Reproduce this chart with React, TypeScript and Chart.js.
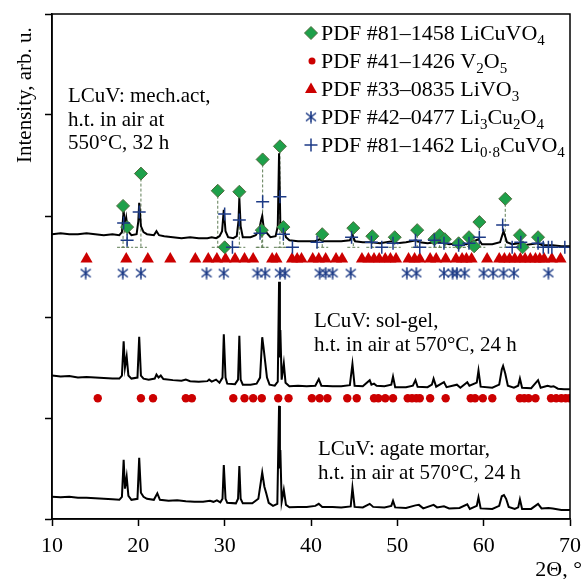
import { useEffect, useRef } from 'react';
import { Chart, registerables } from 'chart.js';
Chart.register(...registerables);

const FONT = '"Liberation Serif", "Times New Roman", serif';

const xTicks = [10, 20, 30, 40, 50, 60, 70];

// LCuV: mech.act (top pattern)
const mechX = [10, 11, 12, 13, 14, 15, 16, 17, 17.8, 18.1, 18.3, 18.45, 18.6, 18.8, 19.2, 19.8, 20.0, 20.1, 20.3, 20.6, 21.0, 21.8, 22.1, 22.4, 23, 24, 25, 26, 27, 28, 28.5, 29.0, 29.4, 29.7, 29.9, 30.1, 30.4, 31.0, 31.4, 31.6, 31.7, 31.85, 32.1, 33.0, 33.6, 34.0, 34.2, 34.35, 34.5, 34.8, 35.3, 35.9, 36.15, 36.3, 36.45, 36.65, 36.85, 37.1, 37.5, 38.5, 39.5, 40.5, 41.0, 41.4, 42.5, 43.5, 44.5, 44.8, 45.1, 46, 47, 48, 49.4, 50, 51, 52.2, 52.6, 53.5, 54.5, 55.2, 56, 57, 58, 59.4, 59.8, 61, 61.9, 62.3, 62.7, 63.3, 64.1, 64.6, 66.3, 66.8, 68, 69, 70];
const mechY = [2.82, 2.83, 2.82, 2.82, 2.83, 2.82, 2.81, 2.82, 2.81, 2.84, 3.05, 2.9, 2.98, 2.85, 2.81, 2.82, 2.95, 3.13, 2.9, 2.84, 2.82, 2.81, 2.85, 2.81, 2.8, 2.79, 2.78, 2.79, 2.78, 2.78, 2.79, 2.78, 2.8, 2.85, 3.06, 2.85, 2.79, 2.78, 2.8, 2.95, 3.18, 2.9, 2.79, 2.79, 2.81, 2.86, 2.95, 3.0, 2.9, 2.84, 2.79, 2.8, 2.9, 3.62, 2.92, 2.85, 2.87, 2.79, 2.76, 2.75, 2.75, 2.75, 2.77, 2.75, 2.75, 2.75, 2.76, 2.81, 2.75, 2.74, 2.74, 2.73, 2.75, 2.73, 2.74, 2.76, 2.74, 2.73, 2.74, 2.74, 2.72, 2.73, 2.72, 2.77, 2.72, 2.72, 2.74, 2.85, 2.74, 2.72, 2.73, 2.71, 2.73, 2.71, 2.71, 2.7, 2.7];

// LCuV: sol-gel (middle pattern)
const solX = [10, 11, 12, 13, 14, 15, 16, 17, 17.8, 18.1, 18.3, 18.45, 18.65, 18.85, 19.2, 19.9, 20.1, 20.3, 20.6, 21.2, 21.9, 22.1, 22.35, 22.6, 22.9, 24, 25, 25.5, 26, 27, 28.0, 28.2, 28.5, 29.0, 29.4, 29.75, 29.9, 30.1, 30.3, 31.2, 31.55, 31.7, 31.85, 32.1, 33.0, 33.7, 34.1, 34.35, 34.5, 34.7, 34.9, 35.2, 35.8, 36.15, 36.3, 36.4, 36.45, 36.6, 36.85, 37.05, 37.5, 38.5, 39.5, 40.5, 40.9, 41.2, 42.5, 43.5, 44.5, 44.8, 45.05, 46, 46.8, 47.0, 47.3, 47.6, 48.5, 49.3, 49.5, 49.75, 51, 51.8, 52.1, 52.35, 53.5, 54.0, 54.2, 54.5, 55.4, 55.7, 56.9, 57.3, 58.1, 58.35, 59.2, 59.4, 59.65, 61, 61.8, 62.1, 62.25, 62.5, 62.8, 63.5, 64.0, 64.2, 64.45, 65.5, 66.3, 66.6, 67.4, 67.8, 68.1, 68.6, 69.3, 70];
const solY = [1.42, 1.41, 1.415, 1.4, 1.405, 1.4, 1.395, 1.39, 1.39, 1.42, 1.76, 1.5, 1.61, 1.42, 1.39, 1.4, 1.805, 1.42, 1.39, 1.38, 1.39, 1.43, 1.4, 1.42, 1.385, 1.375, 1.37, 1.38, 1.365, 1.36, 1.365, 1.38, 1.36, 1.38, 1.35, 1.4, 1.83, 1.4, 1.34, 1.335, 1.38, 1.815, 1.38, 1.33, 1.33, 1.34, 1.4, 1.8, 1.7, 1.55, 1.4, 1.33, 1.32, 1.36, 2.35, 1.6, 1.87, 1.38, 1.54, 1.35, 1.315, 1.32, 1.315, 1.32, 1.385, 1.32, 1.315, 1.315, 1.325, 1.535, 1.32, 1.315, 1.375, 1.33, 1.34, 1.32, 1.315, 1.33, 1.41, 1.305, 1.305, 1.32, 1.375, 1.31, 1.305, 1.33, 1.39, 1.31, 1.355, 1.305, 1.33, 1.3, 1.355, 1.32, 1.35, 1.47, 1.31, 1.3, 1.33, 1.48, 1.515, 1.44, 1.32, 1.3, 1.32, 1.39, 1.3, 1.295, 1.375, 1.3, 1.32, 1.31, 1.315, 1.29, 1.285, 1.285];

// LCuV: agate mortar (bottom pattern)
const agateX = [10, 11, 12, 13, 14, 15, 16, 17, 17.8, 18.1, 18.3, 18.45, 18.65, 18.85, 19.2, 19.9, 20.1, 20.3, 20.6, 21.0, 21.8, 22.2, 22.5, 23.5, 24.5, 25.5, 26.5, 27.5, 28.3, 28.7, 29.1, 29.5, 29.75, 29.9, 30.1, 30.3, 31.3, 31.55, 31.7, 31.85, 32.1, 33.2, 33.9, 34.35, 34.6, 34.8, 35.1, 35.6, 36.1, 36.3, 36.4, 36.45, 36.6, 36.85, 37.1, 37.5, 38.5, 39.5, 40.5, 40.9, 41.3, 42.5, 43.5, 44.6, 44.8, 45.05, 46, 46.8, 47.2, 48.5, 49.3, 49.5, 49.75, 51, 52.1, 52.5, 53, 54.2, 54.6, 55.4, 56, 57.2, 58.1, 58.4, 59.2, 59.4, 59.65, 61, 61.8, 62.1, 62.35, 62.6, 62.9, 63.6, 64.0, 64.2, 64.45, 65.5, 66.3, 66.7, 67.5, 68, 69, 70];
const agateY = [0.22, 0.215, 0.22, 0.21, 0.21, 0.205, 0.2, 0.195, 0.19, 0.22, 0.585, 0.3, 0.42, 0.23, 0.19, 0.2, 0.607, 0.26, 0.22, 0.2, 0.19, 0.254, 0.19, 0.18, 0.185, 0.175, 0.17, 0.17, 0.18, 0.17, 0.185, 0.165, 0.2, 0.535, 0.2, 0.16, 0.155, 0.2, 0.525, 0.2, 0.155, 0.155, 0.2, 0.46, 0.32, 0.26, 0.16, 0.13, 0.15, 1.12, 0.5, 0.683, 0.17, 0.29, 0.14, 0.116, 0.12, 0.12, 0.13, 0.15, 0.12, 0.12, 0.115, 0.125, 0.31, 0.12, 0.115, 0.15, 0.12, 0.115, 0.13, 0.18, 0.115, 0.11, 0.135, 0.14, 0.105, 0.14, 0.115, 0.125, 0.105, 0.11, 0.145, 0.1, 0.13, 0.215, 0.105, 0.1, 0.13, 0.225, 0.237, 0.2, 0.12, 0.1, 0.115, 0.195, 0.1, 0.1, 0.15, 0.105, 0.11, 0.105, 0.09, 0.09];

// PDF #81-1458 LiCuVO4 (diamonds)
const licuvo4X = [18.23, 18.7, 20.3, 29.2, 30.0, 31.7, 34.4, 34.3, 36.4, 36.8, 41.3, 44.9, 47.1, 49.7, 52.3, 54.3, 54.9, 55.5, 57.1, 58.3, 58.9, 59.5, 62.5, 64.2, 64.5, 66.3];
const licuvo4Y = [3.1, 2.89, 3.42, 3.25, 2.69, 3.24, 3.56, 2.86, 3.69, 2.89, 2.82, 2.88, 2.8, 2.79, 2.86, 2.77, 2.81, 2.77, 2.73, 2.79, 2.7, 2.94, 3.17, 2.81, 2.69, 2.79];

// PDF #81-1462 Li0.8CuVO4 (plus)
const li08X = [18.3, 18.7, 20.1, 30.0, 30.9, 31.7, 34.4, 34.1, 36.4, 36.8, 37.85, 40.7, 44.7, 47.0, 48.2, 49.5, 52.1, 52.6, 54.3, 55.4, 57.1, 58.3, 59.5, 62.2, 63.3, 64.3, 66.3, 66.9, 67.5, 67.9, 69.4];
const li08Y = [2.93, 2.76, 3.04, 3.02, 2.69, 2.96, 3.14, 2.83, 3.19, 2.82, 2.69, 2.74, 2.79, 2.74, 2.69, 2.73, 2.76, 2.69, 2.76, 2.73, 2.71, 2.73, 2.79, 2.91, 2.69, 2.74, 2.73, 2.69, 2.69, 2.69, 2.69];

// PDF #33-0835 LiVO3 (triangles)
const livo3X = [14.0, 18.6, 21.1, 23.7, 26.6, 28.1, 29.1, 30.1, 31.2, 32.3, 33.3, 35.5, 36.0, 37.8, 38.4, 38.9, 40.2, 40.9, 41.7, 42.9, 43.6, 45.9, 46.65, 47.3, 47.9, 48.6, 49.2, 49.85, 51.3, 52.0, 52.6, 53.8, 54.5, 55.6, 56.8, 57.5, 58.0, 58.6, 60.4, 61.8, 62.4, 63.0, 63.6, 64.25, 64.8, 65.4, 66.0, 66.5, 67.0, 67.9, 68.9];
const livo3Level = 2.575;

// PDF #42-0477 Li3Cu2O4 (asterisks)
const li3cu2o4X = [13.9, 18.2, 20.3, 27.9, 29.9, 33.8, 34.7, 36.4, 37.0, 41.0, 41.7, 42.5, 44.6, 51.1, 52.2, 55.4, 56.4, 56.9, 57.8, 60.0, 61.1, 62.3, 63.5, 67.5];
const li3cu2o4Level = 2.435;

// PDF #41-1426 V2O5 (circles)
const v2o5X = [15.3, 20.3, 21.7, 25.5, 26.2, 31.0, 32.3, 33.3, 34.3, 36.2, 37.4, 40.1, 41.0, 41.9, 44.2, 45.3, 47.3, 47.8, 48.6, 49.5, 51.2, 51.7, 52.2, 52.6, 53.8, 55.6, 58.5, 59.0, 59.9, 61.0, 64.2, 64.7, 65.2, 66.0, 67.8, 68.4, 69.0, 69.5, 69.95];
const v2o5Level = 1.195;

const dropBase = 2.69;

const legendLabels: [string, boolean][][] = [
  [['PDF #81–1458 LiCuVO', false], ['4', true]],
  [['PDF #41–1426 V', false], ['2', true], ['O', false], ['5', true]],
  [['PDF #33–0835 LiVO', false], ['3', true]],
  [['PDF #42–0477 Li', false], ['3', true], ['Cu', false], ['2', true], ['O', false], ['4', true]],
  [['PDF #81–1462 Li', false], ['0·8', true], ['CuVO', false], ['4', true]],
];

const labelMech = ['LCuV: mech.act,', 'h.t. in air at', '550°C, 32 h'];
const labelSol = ['LCuV: sol-gel,', 'h.t. in air at 570°C, 24 h'];
const labelAgate = ['LCuV: agate mortar,', 'h.t. in air at 570°C, 24 h'];
const yTitle = 'Intensity, arb. u.';
const xTitle = '2Θ, °';

const GREEN = '#1ea04a';
const GREEN_EDGE = '#4f6b3c';
const RED = '#cc0000';
const NAVY = '#1c3a86';
const DROP = '#5f7d55';

function makeAsterisk(): HTMLCanvasElement {
  const c = document.createElement('canvas');
  c.width = 12;
  c.height = 13;
  const g = c.getContext('2d')!;
  g.strokeStyle = NAVY;
  g.lineWidth = 1.6;
  g.beginPath();
  g.moveTo(6, 0.5); g.lineTo(6, 12.5);
  g.moveTo(1, 2.5); g.lineTo(11, 10.5);
  g.moveTo(1, 10.5); g.lineTo(11, 2.5);
  g.stroke();
  return c;
}

const zip = (xs: number[], ys: number[]) => xs.map((x, i) => ({ x, y: ys[i] }));
const level = (xs: number[], v: number) => xs.map((x) => ({ x, y: v }));

export default function App() {
  const ref = useRef<HTMLCanvasElement>(null);
  useEffect(() => {
    const canvas = ref.current!;
    const star = makeAsterisk();

    const dropPlugin = {
      id: 'drops',
      beforeDatasetsDraw(chart: any) {
        const { ctx, scales } = chart;
        const yb = scales.y.getPixelForValue(dropBase);
        ctx.save();
        ctx.strokeStyle = DROP;
        ctx.lineWidth = 1;
        ctx.setLineDash([3, 2]);
        licuvo4X.forEach((x, i) => {
          const px = scales.x.getPixelForValue(x);
          const py = scales.y.getPixelForValue(licuvo4Y[i]);
          ctx.beginPath();
          ctx.moveTo(px, py);
          ctx.lineTo(px, yb);
          ctx.moveTo(px - 6, yb);
          ctx.lineTo(px + 6, yb);
          ctx.stroke();
        });
        ctx.restore();
      },
    };

    const drawRich = (ctx: CanvasRenderingContext2D, parts: [string, boolean][], x: number, y: number) => {
      let cx = x;
      parts.forEach(([t, sub]) => {
        ctx.font = sub ? `15px ${FONT}` : `22px ${FONT}`;
        ctx.fillText(t, cx, sub ? y + 5 : y);
        cx += ctx.measureText(t).width;
      });
    };

    const decorPlugin = {
      id: 'decor',
      afterDatasetsDraw(chart: any) {
        const { ctx, chartArea } = chart;
        ctx.save();
        ctx.strokeStyle = '#000';
        ctx.lineWidth = 1.5;
        ctx.strokeRect(chartArea.left, chartArea.top, chartArea.right - chartArea.left, chartArea.bottom - chartArea.top);
        ctx.restore();
      },
      afterDraw(chart: any) {
        const { ctx } = chart;
        ctx.save();
        ctx.fillStyle = '#000';
        ctx.textBaseline = 'alphabetic';
        ctx.textAlign = 'left';
        // legend
        const mx = 311;
        const baselines = [40, 68, 96, 124, 152];
        baselines.forEach((b, i) => {
          const cy = b - 7;
          ctx.save();
          if (i === 0) {
            ctx.fillStyle = GREEN; ctx.strokeStyle = GREEN_EDGE; ctx.lineWidth = 1;
            ctx.beginPath();
            ctx.moveTo(mx, cy - 6.5); ctx.lineTo(mx + 6.5, cy); ctx.lineTo(mx, cy + 6.5); ctx.lineTo(mx - 6.5, cy); ctx.closePath();
            ctx.fill(); ctx.stroke();
          } else if (i === 1) {
            ctx.fillStyle = RED;
            ctx.beginPath(); ctx.arc(mx + 1, cy, 3.5, 0, Math.PI * 2); ctx.fill();
          } else if (i === 2) {
            ctx.fillStyle = RED;
            ctx.beginPath();
            ctx.moveTo(mx, cy - 6.5); ctx.lineTo(mx + 6, cy + 4); ctx.lineTo(mx - 6, cy + 4); ctx.closePath();
            ctx.fill();
          } else if (i === 3) {
            ctx.drawImage(star, mx - 6, cy - 6.5);
          } else {
            ctx.strokeStyle = NAVY; ctx.lineWidth = 1.5;
            ctx.beginPath();
            ctx.moveTo(mx - 6.5, cy); ctx.lineTo(mx + 6.5, cy);
            ctx.moveTo(mx, cy - 6.5); ctx.lineTo(mx, cy + 6.5);
            ctx.stroke();
          }
          ctx.restore();
          ctx.fillStyle = '#000';
          drawRich(ctx, legendLabels[i], 321, b);
        });
        // sample labels
        ctx.font = `21px ${FONT}`;
        labelMech.forEach((t, i) => ctx.fillText(t, 68, 102 + i * 23.5));
        labelSol.forEach((t, i) => ctx.fillText(t, 314, 327 + i * 23.5));
        labelAgate.forEach((t, i) => ctx.fillText(t, 318, 455 + i * 23.5));
        // axis titles
        ctx.font = `22px ${FONT}`;
        ctx.textAlign = 'right';
        ctx.fillText(xTitle, 582, 576);
        ctx.save();
        ctx.translate(31, 163);
        ctx.rotate(-Math.PI / 2);
        ctx.textAlign = 'left';
        ctx.font = `21px ${FONT}`;
        ctx.fillText(yTitle, 0, 0);
        ctx.restore();
        ctx.restore();
      },
    };

    const curve = (data: any) => ({
      data,
      borderColor: '#000',
      borderWidth: 2,
      pointRadius: 0,
      tension: 0,
      order: 10,
    });

    const chart = new Chart(canvas, {
      type: 'line',
      data: {
        datasets: [
          curve(zip(mechX, mechY)),
          curve(zip(solX, solY)),
          curve(zip(agateX, agateY)),
          {
            data: zip(licuvo4X, licuvo4Y),
            showLine: false,
            pointStyle: 'rectRot',
            pointRadius: 6.5,
            pointBackgroundColor: GREEN,
            pointBorderColor: GREEN_EDGE,
            pointBorderWidth: 1,
            order: 2,
          },
          {
            data: zip(li08X, li08Y),
            showLine: false,
            pointStyle: 'cross',
            pointRadius: 6.5,
            pointBorderColor: NAVY,
            pointBorderWidth: 1.5,
            order: 1,
          },
          {
            data: level(livo3X, livo3Level),
            showLine: false,
            pointStyle: 'triangle',
            pointRadius: 7,
            pointBackgroundColor: RED,
            pointBorderColor: RED,
            pointBorderWidth: 0,
            order: 3,
          },
          {
            data: level(li3cu2o4X, li3cu2o4Level),
            showLine: false,
            pointStyle: star,
            pointRadius: 6,
            order: 3,
          },
          {
            data: level(v2o5X, v2o5Level),
            showLine: false,
            pointStyle: 'circle',
            pointRadius: 4.2,
            pointBackgroundColor: RED,
            pointBorderColor: RED,
            pointBorderWidth: 0,
            order: 3,
          },
        ] as any,
      },
      options: {
        animation: false,
        responsive: false,
        events: [],
        layout: { padding: { top: 14, right: 11, left: 0, bottom: 0 } },
        plugins: { legend: { display: false }, tooltip: { enabled: false }, title: { display: false } },
        scales: {
          x: {
            type: 'linear',
            min: 10,
            max: 70,
            afterBuildTicks: (scale: any) => { scale.ticks = xTicks.map((v) => ({ value: v })); },
            afterFit: (scale: any) => { scale.height = 60; },
            ticks: { font: { family: FONT, size: 22 }, color: '#000', padding: 7, maxRotation: 0 },
            grid: { drawOnChartArea: false, drawTicks: true, tickLength: 7, tickColor: '#000', tickWidth: 1.5 },
            border: { display: true, color: '#000', width: 1.5 },
          },
          y: {
            type: 'linear',
            min: 0,
            max: 5,
            ticks: { stepSize: 1, display: false },
            afterFit: (scale: any) => { scale.width = 52; },
            grid: { drawOnChartArea: false, drawTicks: true, tickLength: 7, tickColor: '#000', tickWidth: 1.5 },
            border: { display: true, color: '#000', width: 1.5 },
          },
        },
      } as any,
      plugins: [dropPlugin, decorPlugin],
    });
    return () => chart.destroy();
  }, []);

  return (
    <div style={{ position: 'fixed', left: 0, top: 0, width: 588, height: 579, background: '#fff' }}>
      <canvas ref={ref} width={588} height={579} style={{ width: 588, height: 579, display: 'block' }} />
    </div>
  );
}
